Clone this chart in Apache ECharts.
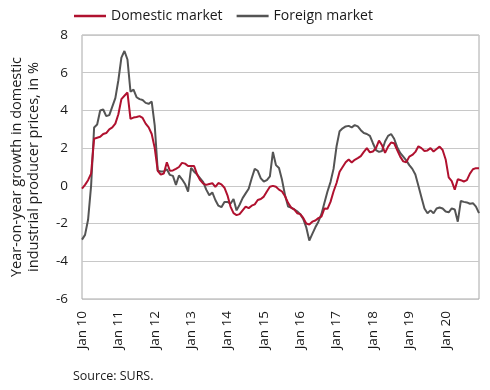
<!DOCTYPE html>
<html>
<head>
<meta charset="utf-8">
<script src="https://cdn.jsdelivr.net/npm/echarts@6/dist/echarts.min.js"></script>
<style>
html,body{margin:0;padding:0;background:#fff;}
#c{width:490px;height:390px;}
</style>
</head>
<body>
<div id="c"></div>
<script>
// Years and months of the monthly category axis (Jan 2010 – Dec 2020)
const years = ['10','11','12','13','14','15','16','17','18','19','20'];
const monthNames = ['Jan','Feb','Mar','Apr','May','Jun','Jul','Aug','Sep','Oct','Nov','Dec'];
const tickLabels = ['Jan 10','Jan 11','Jan 12','Jan 13','Jan 14','Jan 15','Jan 16','Jan 17','Jan 18','Jan 19','Jan 20'];
const yTicks = [-6,-4,-2,0,2,4,6,8];

const domesticMarket = [
  -0.15, 0.05, 0.3, 0.65, 2.5, 2.55, 2.6, 2.75, 2.8, 3.0, 3.1, 3.3,
  3.8, 4.6, 4.78, 4.95, 3.55, 3.62, 3.65, 3.7, 3.6, 3.3, 3.1, 2.75,
  2.0, 0.8, 0.6, 0.65, 1.25, 0.8, 0.82, 0.9, 1.0, 1.22, 1.18, 1.05,
  1.05, 1.05, 0.6, 0.3, 0.12, 0.05, 0.1, 0.14, -0.05, 0.15, 0.08, -0.1,
  -0.5, -1.1, -1.45, -1.55, -1.5, -1.3, -1.1, -1.18, -1.05, -0.98, -0.75, -0.7,
  -0.57, -0.3, -0.05, 0.0, -0.05, -0.2, -0.3, -0.55, -0.9, -1.15, -1.25, -1.45,
  -1.5, -1.7, -2.0, -2.05, -1.9, -1.84, -1.71, -1.63, -1.2, -1.22, -0.85, -0.3,
  0.15, 0.75, 1.0, 1.25, 1.4, 1.24, 1.38, 1.47, 1.58, 1.8, 2.0, 1.78,
  1.82, 2.0, 2.4, 2.15, 1.75, 2.08, 2.3, 2.26, 1.9, 1.55, 1.3, 1.25,
  1.55, 1.64, 1.8, 2.1, 2.0, 1.85, 1.88, 2.0, 1.82, 1.95, 2.08, 1.9,
  1.4, 0.45, 0.25, -0.2, 0.35, 0.3, 0.23, 0.3, 0.65, 0.88, 0.94, 0.94
];

const foreignMarket = [
  -2.85, -2.6, -1.8, 0.0, 3.1, 3.25, 4.0, 4.05, 3.7, 3.75, 4.2, 4.65,
  5.6, 6.8, 7.15, 6.7, 5.0, 5.1, 4.7, 4.6, 4.55, 4.4, 4.35, 4.47,
  3.2, 0.8, 0.76, 0.76, 0.88, 0.58, 0.53, 0.05, 0.55, 0.35, 0.1, -0.3,
  0.95, 0.75, 0.6, 0.4, 0.2, -0.2, -0.5, -0.35, -0.75, -1.05, -1.13, -0.85,
  -0.85, -0.95, -0.7, -1.3, -1.0, -0.65, -0.4, -0.15, 0.4, 0.9, 0.8, 0.4,
  0.23, 0.3, 0.5, 1.8, 1.1, 0.95, 0.32, -0.5, -1.1, -1.15, -1.25, -1.35,
  -1.5, -1.75, -2.2, -2.9, -2.55, -2.2, -1.9, -1.5, -0.9, -0.3, 0.2, 0.9,
  2.1, 2.9, 3.05, 3.15, 3.18, 3.1, 3.22, 3.15, 2.95, 2.8, 2.75, 2.65,
  2.26, 1.9, 1.8, 1.85, 2.35, 2.65, 2.75, 2.5, 2.05, 1.75, 1.55, 1.35,
  1.1, 0.9, 0.6, 0.0, -0.6, -1.2, -1.45, -1.3, -1.45, -1.2, -1.15, -1.2,
  -1.36, -1.4, -1.2, -1.25, -1.9, -0.8, -0.85, -0.88, -0.95, -0.92, -1.1, -1.45
];

const seriesNames = ['Domestic market', 'Foreign market'];
const yAxisTitle = 'Year-on-year growth in domestic\nindustrial producer prices, in %';
const sourceText = 'Source: SURS.';

const categories = [];
years.forEach(y => monthNames.forEach(m => categories.push(m + ' ' + y)));

const FONT = '"Open Sans", sans-serif';
const TXT = '#1a1a1a';

const chart = echarts.init(document.getElementById('c'), null, {renderer: 'canvas'});
chart.setOption({
  animation: false,
  backgroundColor: '#ffffff',
  textStyle: {fontFamily: FONT, color: TXT},
  legend: {
    left: 69, top: 4,
    icon: 'rect', itemWidth: 32, itemHeight: 2.5, itemGap: 14,
    textStyle: {fontFamily: FONT, fontSize: 14, color: TXT},
    data: seriesNames
  },
  grid: {left: 78, right: 11, top: 35, bottom: 91, show: true, borderColor: '#a8a8a8', borderWidth: 1},
  xAxis: {
    type: 'category',
    data: categories,
    boundaryGap: false,
    axisLine: {show: false},
    axisTick: {show: false},
    axisLabel: {
      interval: 11, rotate: 90, margin: 12,
      fontFamily: FONT, fontSize: 13.5, color: TXT,
      formatter: v => tickLabels.includes(v) ? v : ''
    },
    splitLine: {show: false}
  },
  yAxis: {
    type: 'value',
    min: yTicks[0], max: yTicks[yTicks.length - 1], interval: 2,
    name: yAxisTitle,
    nameLocation: 'middle', nameRotate: 90, nameGap: 40,
    nameTextStyle: {fontFamily: FONT, fontSize: 14.5, color: TXT, lineHeight: 17},
    axisLine: {show: false},
    axisTick: {show: false},
    axisLabel: {margin: 14, fontFamily: FONT, fontSize: 13.5, color: TXT},
    splitLine: {lineStyle: {color: '#c8c8c8', width: 1}}
  },
  series: [
    {
      name: seriesNames[0], type: 'line', data: domesticMarket,
      symbol: 'none', lineStyle: {color: '#b0112f', width: 2}, itemStyle: {color: '#b0112f'}, z: 3
    },
    {
      name: seriesNames[1], type: 'line', data: foreignMarket,
      symbol: 'none', lineStyle: {color: '#545454', width: 2}, itemStyle: {color: '#545454'}, z: 2
    }
  ],
  graphic: [{
    type: 'text', left: 73, top: 370,
    style: {text: sourceText, font: '12.5px ' + FONT, fill: TXT}
  }]
});
</script>
</body>
</html>
